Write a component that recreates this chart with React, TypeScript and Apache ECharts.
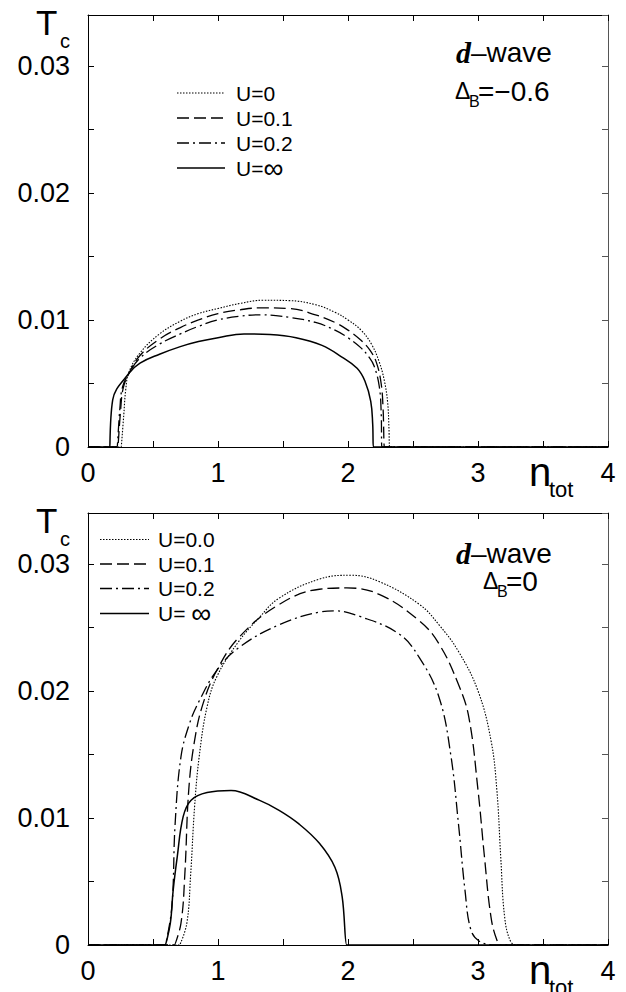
import React, { useEffect, useRef } from "react";
import * as echarts from "echarts";

// ---------- data ----------
// panel (a): d-wave, Delta_B = -0.6
const topU0: [number, number][] = [[0,0],[0.2,0],[0.255,0],[0.26,0],[0.275,0.0025],[0.29,0.0045],[0.315,0.0059],[0.4,0.0074],[0.55,0.0089],[0.71,0.0099],[0.85,0.0105],[1.0,0.0109],[1.17,0.0113],[1.35,0.01155],[1.55,0.01152],[1.75,0.0112],[1.9,0.0106],[2.0,0.01],[2.1,0.0092],[2.18,0.0081],[2.24,0.0067],[2.28,0.0052],[2.305,0.0035],[2.315,0.0015],[2.32,0],[2.325,0],[4,0]];
const topU01: [number, number][] = [[0,0],[0.2,0],[0.23,0],[0.235,0],[0.25,0.0028],[0.27,0.0046],[0.315,0.0058],[0.4,0.0072],[0.55,0.0085],[0.71,0.0094],[0.85,0.01],[1.0,0.0105],[1.17,0.0108],[1.33,0.01095],[1.55,0.0109],[1.75,0.0104],[1.9,0.0098],[2.0,0.0092],[2.1,0.0084],[2.17,0.0076],[2.22,0.0066],[2.255,0.005],[2.27,0.003],[2.28,0],[2.285,0],[4,0]];
const topU02: [number, number][] = [[0,0],[0.2,0],[0.225,0],[0.23,0],[0.245,0.003],[0.265,0.0047],[0.315,0.0058],[0.4,0.007],[0.55,0.0081],[0.71,0.0089],[0.85,0.0095],[1.0,0.01],[1.17,0.0103],[1.33,0.0104],[1.55,0.0102],[1.75,0.0098],[1.9,0.0092],[2.0,0.0086],[2.1,0.0078],[2.16,0.0071],[2.2,0.0064],[2.24,0.0048],[2.255,0.0028],[2.26,0],[2.265,0],[4,0]];
const topUinf: [number, number][] = [[0,0],[0.15,0],[0.168,0],[0.172,0],[0.19,0.0037],[0.315,0.0058],[0.4,0.0066],[0.55,0.0073],[0.71,0.0079],[0.85,0.0083],[1.0,0.0086],[1.2,0.0089],[1.4,0.00885],[1.6,0.0086],[1.8,0.008],[1.95,0.0071],[2.07,0.0062],[2.13,0.0052],[2.175,0.0036],[2.19,0.0018],[2.195,0],[2.2,0],[4,0]];

// panel (b): d-wave, Delta_B = 0
const botU0: [number, number][] = [[0,0],[0.65,0],[0.705,0],[0.71,0],[0.76,0.0017],[0.79,0.0056],[0.82,0.0109],[0.855,0.0148],[0.915,0.0187],[0.99,0.0211],[1.16,0.0239],[1.32,0.0258],[1.47,0.0273],[1.78,0.0288],[2.02,0.0291],[2.24,0.0286],[2.55,0.0268],[2.7,0.0252],[2.85,0.0231],[3.0,0.02],[3.1,0.0161],[3.145,0.0122],[3.175,0.0069],[3.205,0.0022],[3.25,0.0003],[3.3,0],[4,0]];
const botU01: [number, number][] = [[0,0],[0.6,0],[0.665,0],[0.67,0],[0.715,0.0017],[0.745,0.0056],[0.775,0.0122],[0.82,0.0161],[0.885,0.019],[0.99,0.0216],[1.16,0.0242],[1.47,0.0268],[1.78,0.028],[1.99,0.0281],[2.24,0.0276],[2.55,0.0255],[2.7,0.0237],[2.85,0.0205],[2.93,0.0179],[3.0,0.0122],[3.05,0.0069],[3.1,0.0022],[3.145,0.0004],[3.18,0],[4,0]];
const botU02: [number, number][] = [[0,0],[0.55,0],[0.595,0],[0.6,0],[0.645,0.003],[0.67,0.0095],[0.715,0.0148],[0.78,0.0174],[0.855,0.0192],[0.99,0.0216],[1.16,0.0234],[1.47,0.0252],[1.78,0.0262],[1.9,0.0263],[2.08,0.0259],[2.39,0.0245],[2.55,0.0226],[2.7,0.0195],[2.79,0.015],[2.85,0.0095],[2.9,0.0043],[2.945,0.0012],[3.01,0.0003],[3.13,0],[4,0]];
const botUinf: [number, number][] = [[0,0],[0.55,0],[0.595,0],[0.6,0],[0.633,0.0017],[0.655,0.0043],[0.686,0.0069],[0.732,0.0101],[0.793,0.0114],[0.916,0.012],[1.1,0.01216],[1.316,0.0114],[1.47,0.0106],[1.62,0.00955],[1.78,0.008],[1.9,0.0061],[1.955,0.0038],[1.99,0],[1.995,0],[4,0]];

const xRange = [0, 4];
const yRange = [0, 0.034];
const topLegend = ["U=0", "U=0.1", "U=0.2", "U="];
const botLegend = ["U=0.0", "U=0.1", "U=0.2", "U= "];
const topNote = ["–wave", "=−0.6"];
const botNote = ["–wave", "=0"];

const SANS = "'Liberation Sans', Arial, Helvetica, sans-serif";
const SERIF = "'Liberation Serif', 'Times New Roman', serif";

const DOT = [1.5, 1.5];
const DASH = [12, 5];
const DASHDOT = [12, 4, 2, 4];
const styles = [
  { type: DOT, width: 1.1 },
  { type: DASH, width: 1.3 },
  { type: DASHDOT, width: 1.3 },
  { type: "solid", width: 1.5 },
];

export default function App() {
  const ref = useRef<HTMLDivElement>(null);
  useEffect(() => {
    if (!ref.current) return;
    const chart = echarts.init(ref.current, null, { renderer: "svg" });
    const grids = [
      { left: 88, top: 15, width: 520, height: 432 },
      { left: 88, top: 513, width: 520, height: 432 },
    ];
    const xFmt = (v: number) => (Math.abs(v - Math.round(v)) < 1e-9 ? String(Math.round(v)) : "");
    const yFmt = (v: number) => {
      const k = Math.round(v * 100);
      if (Math.abs(v * 100 - k) > 1e-6) return "";
      return k === 0 ? "0" : (k / 100).toFixed(2);
    };
    const xAxes: any[] = [];
    const yAxes: any[] = [];
    grids.forEach((_, gi) => {
      ["bottom", "top"].forEach((pos, j) => {
        xAxes.push({
          type: "value", gridIndex: gi, position: pos, min: xRange[0], max: xRange[1], interval: 0.5,
          axisLine: { show: true, onZero: false, lineStyle: { color: "#000", width: 1 } },
          axisTick: { show: true, inside: true, length: 6, lineStyle: { color: "#000", width: 1 } },
          axisLabel: { show: j === 0, margin: 12, fontSize: 27, color: "#000", fontFamily: SANS, formatter: xFmt },
          splitLine: { show: false },
        });
      });
      ["left", "right"].forEach((pos, j) => {
        yAxes.push({
          type: "value", gridIndex: gi, position: pos, min: yRange[0], max: yRange[1], interval: 0.005,
          axisLine: { show: true, onZero: false, lineStyle: { color: j === 0 ? "#000" : "#555", width: 1 } },
          axisTick: { show: true, inside: true, length: 6, lineStyle: { color: j === 0 ? "#000" : "#555", width: 1 } },
          axisLabel: { show: j === 0, margin: 18, fontSize: 27, lineHeight: 26, color: "#000", fontFamily: SANS, formatter: yFmt },
          splitLine: { show: false },
        });
      });
    });
    const allData = [
      [topU0, topU01, topU02, topUinf],
      [botU0, botU01, botU02, botUinf],
    ];
    const series: any[] = [];
    allData.forEach((group, gi) => {
      group.forEach((d, si) => {
        series.push({
          type: "line", xAxisIndex: gi * 2, yAxisIndex: gi * 2, data: d,
          showSymbol: false, symbol: "none", smooth: 0.4, clip: false, silent: true,
          lineStyle: { color: "#000", width: styles[si].width, type: styles[si].type },
          emphasis: { disabled: true },
        });
      });
    });

    const txt = (text: string, x: number, y: number, size: number, extra: any = {}) => ({
      type: "text", x, y, silent: true,
      style: { text, fontSize: size, fontFamily: SANS, fill: "#000", align: "left", textAlign: "left", verticalAlign: "middle", textVerticalAlign: "middle", ...extra },
    });
    const graphics: any[] = [];
    const dy = 498;
    [0, 1].forEach((gi) => {
      const o = gi * dy;
      graphics.push(txt("T", 36, 22.5 + o, 35));
      graphics.push(txt("c", 60, 40.5 + o, 20, { lineHeight: 18 }));
      graphics.push(txt("n", 529, 472 + o, 40));
      graphics.push(txt("tot", 549, 489.5 + o, 22));
    });
    // annotations
    const richD = {
      d: { fontFamily: SERIF, fontWeight: "bold", fontStyle: "italic", fontSize: 30, fill: "#000" },
      w: { fontFamily: SANS, fontSize: 28, fill: "#000" },
    };
    graphics.push(txt(`{d|d}{w|${topNote[0]}}`, 456, 52, 28, { rich: richD }));
    graphics.push(txt("Δ", 455, 91, 23));
    graphics.push(txt("B", 469, 101, 16));
    graphics.push(txt(topNote[1], 478, 91, 28));
    graphics.push(txt(`{d|d}{w|${botNote[0]}}`, 456, 553, 28, { rich: richD }));
    graphics.push(txt("Δ", 483, 581, 23));
    graphics.push(txt("B", 497, 591, 16));
    graphics.push(txt(botNote[1], 506, 581, 28));

    // legends
    const legend = (labels: string[], ys: number[], x1: number, x2: number, tx: number) => {
      labels.forEach((lab, i) => {
        const st = styles[i];
        graphics.push({
          type: "line", silent: true,
          shape: { x1, y1: ys[i], x2, y2: ys[i] },
          style: { stroke: "#000", lineWidth: st.width, lineDash: st.type === "solid" ? null : st.type },
        });
        if (i < 3) {
          graphics.push(txt(lab, tx, ys[i], 21));
        } else {
          graphics.push(txt(`{a|${lab}}{b|∞}`, tx, ys[i], 21, {
            rich: {
              a: { fontSize: 21, fontFamily: SANS, fill: "#000", lineHeight: 20 },
              b: { fontSize: 28, fontFamily: SANS, fill: "#000", lineHeight: 20 },
            },
          }));
        }
      });
    };
    legend(topLegend, [93, 118, 143, 168], 177, 225, 236);
    legend(botLegend, [539.5, 564, 588.5, 613.5], 100, 149, 158);

    chart.setOption({
      animation: false,
      backgroundColor: "#fff",
      grid: grids.map((g) => ({ ...g, show: false, outerBoundsMode: "none", containLabel: false })),
      xAxis: xAxes,
      yAxis: yAxes,
      series,
      graphic: { elements: graphics },
    });
    return () => chart.dispose();
  }, []);
  return <div ref={ref} style={{ position: "absolute", left: 0, top: 0, width: 626, height: 992, background: "#fff" }} />;
}
